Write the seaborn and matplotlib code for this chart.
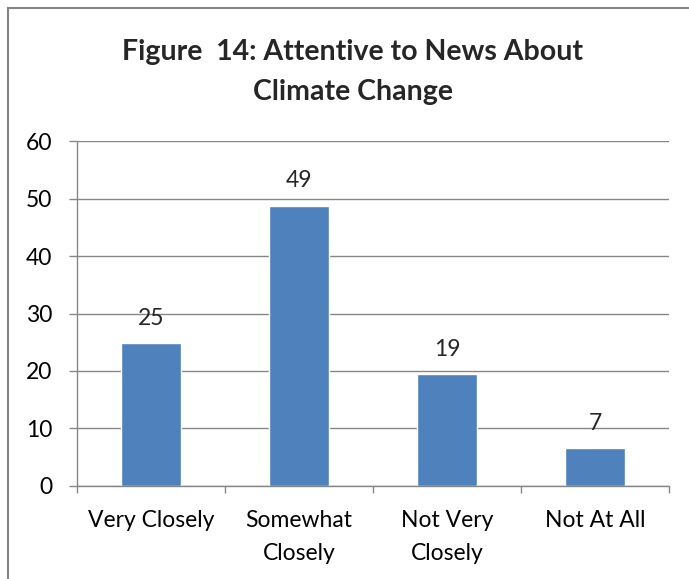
import matplotlib
matplotlib.use("Agg")
import matplotlib.pyplot as plt
import seaborn as sns
import pandas as pd
from matplotlib.patches import Rectangle

# data
categories = ["Very Closely", "Somewhat\nClosely", "Not Very\nClosely", "Not At All"]
values = [24.8, 48.8, 19.4, 6.5]
value_labels = ["25", "49", "19", "7"]
y_ticks = [0, 10, 20, 30, 40, 50, 60]
title_lines = ["Figure  14: Attentive to News About", "Climate Change"]

sns.set_style("white")
plt.rcParams["font.family"] = ["Lato", "DejaVu Sans"]

grey = "#868686"
bar_color = "#4F81BD"
fs = 16.5

df = pd.DataFrame({"category": categories, "percent": values})

fig = plt.figure(figsize=(6.89, 5.79), dpi=100)
ax = fig.add_axes([77 / 689, 1 - 485.7 / 579, (669 - 77) / 689, (485.7 - 141.3) / 579])

sns.barplot(data=df, x="category", y="percent", color=bar_color, width=0.4,
            saturation=1, ax=ax)

ax.set_xlim(-0.5, 3.5)
ax.set_ylim(0, 60)
ax.set_yticks(y_ticks)
ax.set_xlabel("")
ax.set_ylabel("")

# gridlines + axis lines
ax.yaxis.grid(True, color=grey, lw=1.0)
ax.set_axisbelow(True)
for side in ["top", "right"]:
    ax.spines[side].set_visible(False)
for side in ["left", "bottom"]:
    ax.spines[side].set_color(grey)
    ax.spines[side].set_linewidth(1.0)

# ticks
ax.tick_params(axis="y", left=True, length=5.8, width=1, color=grey, pad=12,
               labelsize=fs, labelcolor="black")
ax.tick_params(axis="x", which="major", bottom=True, length=0, pad=17.5,
               labelsize=fs, labelcolor="black")
ax.set_xticks([-0.5, 0.5, 1.5, 2.5, 3.5], minor=True)
ax.tick_params(axis="x", which="minor", bottom=True, length=5, width=1, color=grey)
for lab in ax.get_xticklabels():
    lab.set_linespacing(1.7)

# value labels above bars
ax.bar_label(ax.containers[0], labels=value_labels, padding=10.5, fontsize=fs)

# title
fig.text(0.512, 1 - 60 / 579, title_lines[0], ha="center", va="baseline",
         fontsize=20.5, fontweight="bold")
fig.text(0.512, 1 - 100 / 579, title_lines[1], ha="center", va="baseline",
         fontsize=20.5, fontweight="bold")

# chart frame (cropped on right and bottom)
fig.add_artist(Rectangle((7.5 / 689, -0.1), 1.2, 1 - 8 / 579 + 0.1,
                         transform=fig.transFigure, fill=False,
                         edgecolor="#858585", lw=1.5))

fig.savefig("out.png", dpi=100)
